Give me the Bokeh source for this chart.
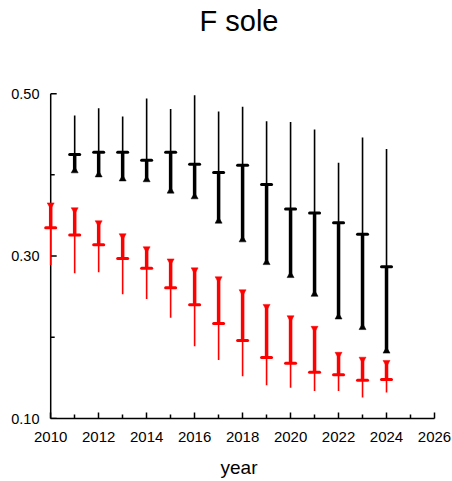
from bokeh.plotting import figure
from bokeh.models import Range1d, FixedTicker, PrintfTickFormatter, ColumnDataSource, Title
from bokeh.embed import file_html
from bokeh.resources import INLINE

# Upper series (black): whisker top, central value, lower end of the thick bar
years_black = [2011, 2012, 2013, 2014, 2015, 2016, 2017, 2018, 2019, 2020, 2021, 2022, 2023, 2024]
black_top = [0.473, 0.482, 0.472, 0.494, 0.481, 0.498, 0.478, 0.484, 0.466, 0.465, 0.456, 0.415, 0.446, 0.432]
black_mid = [0.425, 0.428, 0.428, 0.418, 0.428, 0.413, 0.403, 0.412, 0.388, 0.358, 0.353, 0.341, 0.327, 0.287]
black_end = [0.405, 0.400, 0.395, 0.394, 0.380, 0.373, 0.343, 0.320, 0.292, 0.276, 0.253, 0.225, 0.212, 0.183]

# Lower series (red): upper end of the thick bar, central value, whisker bottom
years_red = [2010, 2011, 2012, 2013, 2014, 2015, 2016, 2017, 2018, 2019, 2020, 2021, 2022, 2023, 2024]
red_end = [0.363, 0.357, 0.341, 0.325, 0.309, 0.294, 0.283, 0.272, 0.256, 0.238, 0.224, 0.211, 0.179, 0.173, 0.169]
red_mid = [0.335, 0.326, 0.314, 0.297, 0.285, 0.261, 0.240, 0.217, 0.196, 0.175, 0.168, 0.157, 0.154, 0.147, 0.148]
red_bottom = [0.289, 0.279, 0.280, 0.253, 0.247, 0.224, 0.189, 0.172, 0.152, 0.141, 0.138, 0.134, 0.134, 0.126, 0.132]

x_ticks = list(range(2010, 2027, 2))
x_minor = list(range(2011, 2026, 2))
y_ticks = [0.10, 0.30, 0.50]
y_minor = [0.20, 0.40]

FONT = "Liberation Sans"
X_START, X_END = 2010, 2026
Y_LO, Y_HI = 0.10, 0.50
Y_VIEW_TOP = 0.563   # headroom between the axis top and the title

# the frame starts a little before the first year so the 2010 bar is not cut;
# the y axis line and its ticks are drawn as glyphs at 2010, the x axis line is bounded
p = figure(width=452, height=481, output_backend="svg", toolbar_location=None,
           x_range=Range1d(X_START - 0.3, X_END), y_range=Range1d(Y_LO, Y_VIEW_TOP),
           title_location=None, x_axis_label="year",
           min_border_left=43, min_border_right=18, min_border_top=0, min_border_bottom=63)

p.add_layout(Title(text="F sole", align="center", vertical_align="top", standoff=8,
                   text_font=FONT, text_font_size="29px", text_font_style="normal",
                   text_color="black"), "above")

p.outline_line_color = None
p.xgrid.grid_line_color = None
p.ygrid.grid_line_color = None
p.background_fill_color = "white"
p.border_fill_color = "white"

for ax in (p.xaxis[0], p.yaxis[0]):
    ax.axis_line_color = "black"
    ax.axis_line_width = 1.5
    ax.major_tick_line_color = "black"
    ax.minor_tick_line_color = "black"
    ax.major_tick_line_width = 1.5
    ax.minor_tick_line_width = 1.5
    ax.major_tick_in = 6
    ax.major_tick_out = 0
    ax.minor_tick_in = 4
    ax.minor_tick_out = 0
    ax.major_label_text_font = FONT
    ax.major_label_text_color = "black"
    ax.axis_label_text_font = FONT
    ax.axis_label_text_font_style = "normal"
    ax.axis_label_text_color = "black"

p.xaxis[0].ticker = FixedTicker(ticks=x_ticks, minor_ticks=x_minor)
p.xaxis[0].bounds = (X_START, X_END)
p.xaxis[0].major_label_text_font_size = "15px"
p.xaxis[0].major_label_standoff = 13
p.xaxis[0].axis_label_text_font_size = "19px"
p.xaxis[0].axis_label_standoff = 12

# y axis keeps only its labels; line and ticks come from glyphs at 2010
p.yaxis[0].ticker = FixedTicker(ticks=y_ticks, minor_ticks=y_minor)
p.yaxis[0].formatter = PrintfTickFormatter(format="%.2f")
p.yaxis[0].axis_line_color = None
p.yaxis[0].major_tick_line_color = None
p.yaxis[0].minor_tick_line_color = None
p.yaxis[0].major_label_text_font_size = "14.5px"
p.yaxis[0].major_label_standoff = 4

p.segment(x0=[X_START], y0=[Y_LO], x1=[X_START], y1=[Y_HI], line_color="black", line_width=1.5)
p.ray(x=[X_START] * len(y_ticks), y=y_ticks, length=6, length_units="screen", angle=0,
      line_color="black", line_width=1.5)
p.ray(x=[X_START] * len(y_minor), y=y_minor, length=4, length_units="screen", angle=0,
      line_color="black", line_width=1.5)

black = ColumnDataSource(dict(x=years_black, top=black_top, mid=black_mid, end=black_end))
red = ColumnDataSource(dict(x=years_red, end=red_end, mid=red_mid, bottom=red_bottom))

# black bars: thin whisker upward, thick bar down to an upward triangle
p.segment(x0="x", y0="mid", x1="x", y1="top", source=black, line_color="black", line_width=1.6)
p.segment(x0="x", y0="mid", x1="x", y1="end", source=black, line_color="black", line_width=3.5)
p.scatter(x="x", y="mid", source=black, marker="dash", size=10, line_color="black", line_width=3, line_cap="round")
p.scatter(x="x", y="end", source=black, marker="triangle", size=7, fill_color="black", line_color="black", line_width=0.5)

# red bars: thick bar up to an inverted triangle, thin whisker downward
p.segment(x0="x", y0="mid", x1="x", y1="bottom", source=red, line_color="red", line_width=1.6)
p.segment(x0="x", y0="mid", x1="x", y1="end", source=red, line_color="red", line_width=3.5)
p.scatter(x="x", y="mid", source=red, marker="dash", size=10, line_color="red", line_width=3, line_cap="round")
p.scatter(x="x", y="end", source=red, marker="inverted_triangle", size=7, fill_color="red", line_color="red", line_width=0.5)

open("out.html", "w").write(file_html(p, INLINE))
